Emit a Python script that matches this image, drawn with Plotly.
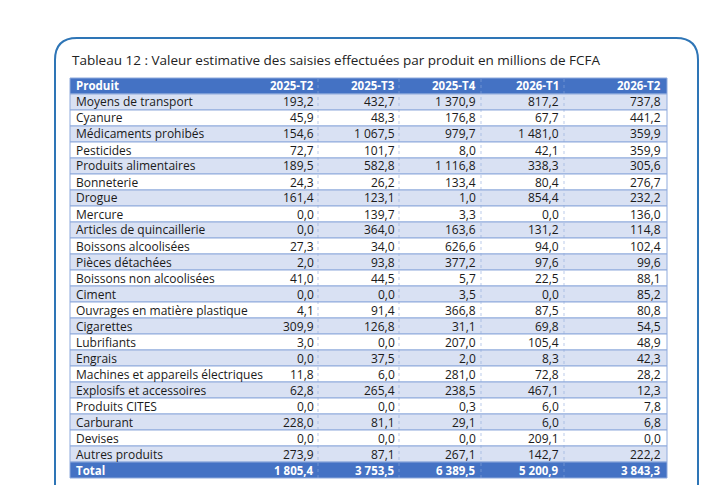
import plotly.graph_objects as go

W, H = 719, 485

produits = ["Moyens de transport", "Cyanure", "Médicaments prohibés", "Pesticides",
            "Produits alimentaires", "Bonneterie", "Drogue", "Mercure",
            "Articles de quincaillerie", "Boissons alcoolisées", "Pièces détachées",
            "Boissons non alcoolisées", "Ciment", "Ouvrages en matière plastique",
            "Cigarettes", "Lubrifiants", "Engrais", "Machines et appareils électriques",
            "Explosifs et accessoires", "Produits CITES", "Carburant", "Devises",
            "Autres produits"]
periodes = ["2025-T2", "2025-T3", "2025-T4", "2026-T1", "2026-T2"]
t2_2025 = [193.2, 45.9, 154.6, 72.7, 189.5, 24.3, 161.4, 0.0, 0.0, 27.3, 2.0, 41.0, 0.0,
           4.1, 309.9, 3.0, 0.0, 11.8, 62.8, 0.0, 228.0, 0.0, 273.9]
t3_2025 = [432.7, 48.3, 1067.5, 101.7, 582.8, 26.2, 123.1, 139.7, 364.0, 34.0, 93.8, 44.5,
           0.0, 91.4, 126.8, 0.0, 37.5, 6.0, 265.4, 0.0, 81.1, 0.0, 87.1]
t4_2025 = [1370.9, 176.8, 979.7, 8.0, 1116.8, 133.4, 1.0, 3.3, 163.6, 626.6, 377.2, 5.7,
           3.5, 366.8, 31.1, 207.0, 2.0, 281.0, 238.5, 0.3, 29.1, 0.0, 267.1]
t1_2026 = [817.2, 67.7, 1481.0, 42.1, 338.3, 80.4, 854.4, 0.0, 131.2, 94.0, 97.6, 22.5,
           0.0, 87.5, 69.8, 105.4, 8.3, 72.8, 467.1, 6.0, 6.0, 209.1, 142.7]
t2_2026 = [737.8, 441.2, 359.9, 359.9, 305.6, 276.7, 232.2, 136.0, 114.8, 102.4, 99.6, 88.1,
           85.2, 80.8, 54.5, 48.9, 42.3, 28.2, 12.3, 7.8, 6.8, 0.0, 222.2]
totaux = [1805.4, 3753.5, 6389.5, 5200.9, 3843.3]


def fmt(v):
    s = f"{v:,.1f}"
    return s.replace(",", " ").replace(".", ",")


def px(x):
    return x / W


def py(y):
    return 1 - y / H


series = [t2_2025, t3_2025, t4_2025, t1_2026, t2_2026]
blue = "#4472c4"
light = "#d9e1f3"
grid = "#8faadc"
font = "Open Sans, sans-serif"
top, rh = 70, 16
left, right = 62, 659
col_right = [308, 389, 470, 553, 655]
col_sep = [310, 391, 473, 556]

fig = go.Figure()
rows = [["<b>Produit</b>"] + [f"<b>{p}</b>" for p in periodes]]
for i, p in enumerate(produits):
    rows.append([p] + [fmt(s[i]) for s in series])
rows.append(["<b>Total</b>"] + [f"<b>{fmt(t)}</b>" for t in totaux])

n = len(rows)
for i, row in enumerate(rows):
    y0 = top + i * rh
    if i == 0 or i == n - 1:
        fill, color, size = blue, "white", 11.5
    else:
        fill, color, size = (light if i % 2 == 1 else "white"), "#1a1a1a", 12
    fig.add_shape(type="rect", xref="paper", yref="paper", x0=px(left), x1=px(right),
                  y0=py(y0 + rh), y1=py(y0), fillcolor=fill, line=dict(color=grid, width=1), layer="below")
    ym = py(y0 + rh / 2)
    fig.add_annotation(text=row[0], x=px(66), y=ym, xref="paper", yref="paper", xanchor="left",
                       yanchor="middle", showarrow=False, font=dict(size=size, color=color, family=font))
    for j, v in enumerate(row[1:]):
        fig.add_annotation(text=v, x=px(col_right[j]), y=ym, xref="paper", yref="paper",
                           xanchor="right", yanchor="middle", showarrow=False,
                           font=dict(size=size, color=color, family=font))

for xs in col_sep:
    fig.add_shape(type="line", xref="paper", yref="paper", x0=px(xs), x1=px(xs),
                  y0=py(top + rh * n), y1=py(top), line=dict(color=grid, width=0.6, dash="dot"), layer="below")

fig.add_shape(type="path", xref="paper", yref="paper",
              path=f"M {px(47)},0 L {px(47)},{py(52)} Q {px(47)},{py(30)} {px(69)},{py(30)} "
                   f"L {px(668)},{py(30)} Q {px(690)},{py(30)} {px(690)},{py(52)} L {px(690)},0",
              line=dict(color="#2e75b6", width=2))
fig.add_annotation(text="Tableau 12 : Valeur estimative des saisies effectuées par produit en millions de FCFA",
                   x=px(62), y=py(52), xref="paper", yref="paper", xanchor="left", yanchor="middle",
                   showarrow=False, font=dict(size=13.5, color="#222", family=font))
fig.update_layout(width=W, height=H, margin=dict(l=0, r=0, t=0, b=0),
                  paper_bgcolor="white", plot_bgcolor="white",
                  xaxis=dict(visible=False), yaxis=dict(visible=False))
fig.write_html("out.html")
